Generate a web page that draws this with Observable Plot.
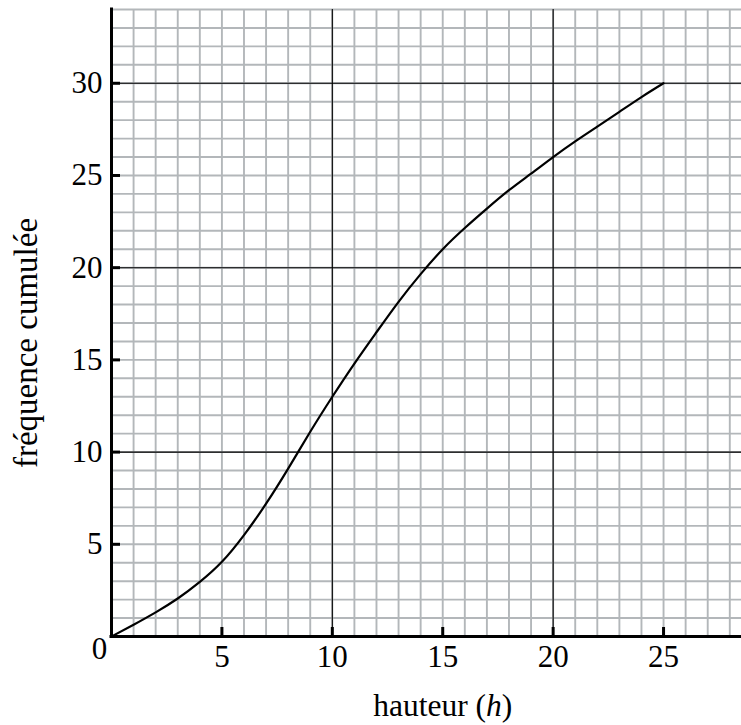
<!DOCTYPE html>
<html><head><meta charset="utf-8">
<script src="https://cdn.jsdelivr.net/npm/d3@7"></script>
<script src="https://cdn.jsdelivr.net/npm/@observablehq/plot@0.6"></script>
<style>
body{margin:0;background:#fff}
svg{display:block}
</style>
</head><body><div id="chart"></div>
<script>
// values
const hauteur = [0,1,2,3,4,5,6,7,8,9,10,11,12,13,14,15,16,17,18,19,20,21,22,23,24,25];
const frequenceCumulee = [0,0.64,1.31,2.06,2.96,4.05,5.5,7.2,9.1,11.1,13.0,14.8,16.5,18.15,19.65,21.0,22.15,23.2,24.2,25.1,26.0,26.85,27.65,28.45,29.25,30];
const xTicks = [5,10,15,20,25];
const yTicks = [5,10,15,20,25,30];
const xMajor = [10,20];
const yMajor = [10,20,30];
const xMinor = d3.range(0, 29);
const yMinor = d3.range(0, 35);
const xTitle = "hauteur (h)";
const yTitle = "fréquence cumulée";

const data = hauteur.map((h, i) => ({h, f: frequenceCumulee[i]}));

const W = 741, H = 725, mL = 111, mR = 0, mT = 9, mB = 89;
const font = "'Liberation Serif', 'Times New Roman', serif";

const chart = Plot.plot({
  width: W, height: H,
  marginLeft: mL, marginRight: mR, marginTop: mT, marginBottom: mB,
  style: {fontFamily: font, background: "#fff", overflow: "visible"},
  x: {domain: [0, 28.53], axis: null},
  y: {domain: [0, 34], axis: null},
  marks: [
    Plot.ruleX(xMinor, {stroke: "#b3b7ba", strokeWidth: 1.9}),
    Plot.ruleY(yMinor, {stroke: "#b3b7ba", strokeWidth: 1.9}),
    Plot.ruleX(xMajor, {stroke: "#000", strokeWidth: 1.1}),
    Plot.ruleY(yMajor, {stroke: "#000", strokeWidth: 1.1}),
    Plot.line(data, {x: "h", y: "f", curve: "natural", stroke: "#000", strokeWidth: 2.2}),
    Plot.ruleX([0], {stroke: "#000", strokeWidth: 3, strokeLinecap: "square"}),
    Plot.ruleY([0], {stroke: "#000", strokeWidth: 3, strokeLinecap: "square"}),
    Plot.tickX(xTicks, {x: d => d, stroke: "#000", strokeWidth: 3, insetTop: (H - mT - mB) - 9}),
    Plot.tickY(yTicks, {y: d => d, stroke: "#000", strokeWidth: 3, insetRight: (W - mL - mR) - 9}),
    Plot.text(xTicks, {x: d => d, frameAnchor: "bottom", lineAnchor: "middle", textAnchor: "middle", dy: 21, text: d => String(d), fontSize: 31, fill: "#000"}),
    Plot.text(yTicks, {y: d => d, frameAnchor: "left", lineAnchor: "middle", textAnchor: "end", dx: -9, text: d => String(d), fontSize: 31, fill: "#000"}),
    Plot.text(["0"], {frameAnchor: "bottom-left", lineAnchor: "middle", textAnchor: "middle", dx: -12, dy: 13, text: d => d, fontSize: 31, fill: "#000"}),
    Plot.text([xTitle], {x: 15, frameAnchor: "bottom", lineAnchor: "middle", textAnchor: "middle", dy: 69, text: d => d, fontSize: 31.5, fill: "#000"}),
    Plot.text([yTitle], {frameAnchor: "left", lineAnchor: "middle", textAnchor: "middle", rotate: -90, dx: -85, dy: 20, text: d => d, fontSize: 33, fill: "#000"})
  ]
});

// italic h in the x title
chart.querySelectorAll("text").forEach(t => {
  if (t.textContent === xTitle) {
    t.textContent = "";
    const ns = "http://www.w3.org/2000/svg";
    const a = document.createElementNS(ns, "tspan"); a.textContent = "hauteur (";
    const b = document.createElementNS(ns, "tspan"); b.textContent = "h"; b.setAttribute("font-style", "italic");
    const c = document.createElementNS(ns, "tspan"); c.textContent = ")";
    t.append(a, b, c);
  }
});

document.getElementById("chart").append(chart);
</script>
</body></html>
